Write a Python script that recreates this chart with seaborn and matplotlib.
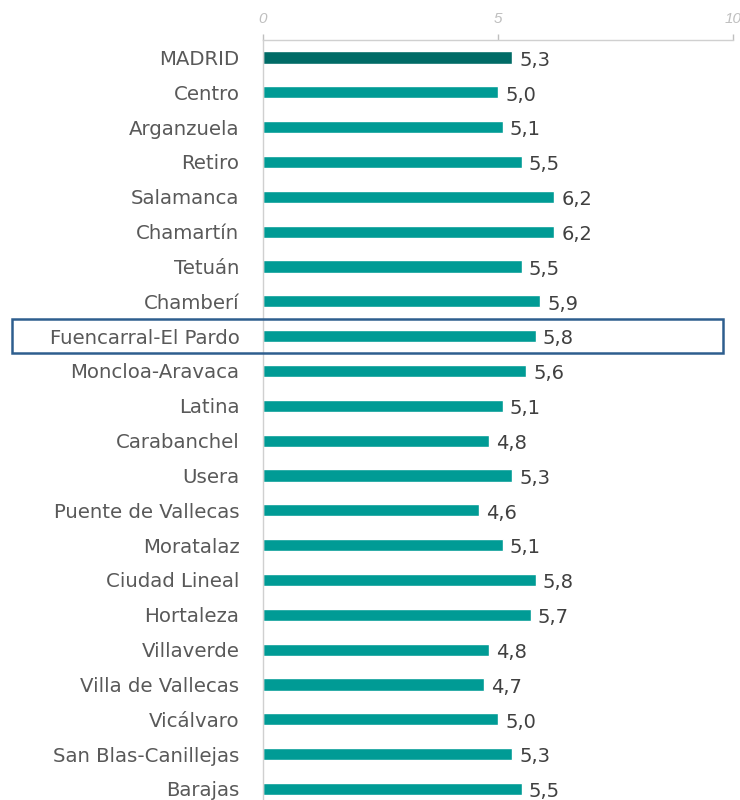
import matplotlib
matplotlib.use("Agg")
import matplotlib.pyplot as plt
import seaborn as sns
import pandas as pd
from matplotlib.patches import Rectangle

districts = ["MADRID", "Centro", "Arganzuela", "Retiro", "Salamanca", "Chamartín",
             "Tetuán", "Chamberí", "Fuencarral-El Pardo", "Moncloa-Aravaca", "Latina",
             "Carabanchel", "Usera", "Puente de Vallecas", "Moratalaz", "Ciudad Lineal",
             "Hortaleza", "Villaverde", "Villa de Vallecas", "Vicálvaro",
             "San Blas-Canillejas", "Barajas"]
values = [5.3, 5.0, 5.1, 5.5, 6.2, 6.2, 5.5, 5.9, 5.8, 5.6, 5.1, 4.8, 5.3, 4.6,
          5.1, 5.8, 5.7, 4.8, 4.7, 5.0, 5.3, 5.5]
groups = ["city"] + ["district"] * (len(districts) - 1)
xticks = [0, 5, 10]
highlight = "Fuencarral-El Pardo"

sns.set_style("white")
plt.rcParams['font.family'] = ['DejaVu Sans']

df = pd.DataFrame({"district": districts, "value": values, "group": groups})

fig = plt.figure(figsize=(7.4, 8), dpi=100)
ax = fig.add_axes([263/740, 0.0, 470/740, 1 - 40/800])

sns.barplot(data=df, x="value", y="district", hue="group", orient="h",
            palette={"city": "#006B66", "district": "#009B95"}, saturation=1,
            width=0.35, dodge=False, legend=False, ax=ax)

ax.set_xlim(0, 10)
ax.set_ylim(len(districts) - 1 + 0.316, -0.5)
ax.xaxis.tick_top()
ax.set_xticks(xticks)
ax.set_xticklabels([str(t) for t in xticks], fontstyle="italic", color="#BFBFBF",
                   fontsize=11, family=["Liberation Sans", "DejaVu Sans"])
ax.tick_params(axis="x", direction="out", length=4, color="#BFBFBF", width=1, pad=6)
ax.tick_params(axis="y", length=0, pad=17, labelsize=14.2, labelcolor="#595959")
ax.set_xlabel("")
ax.set_ylabel("")
for side in ["right", "bottom"]:
    ax.spines[side].set_visible(False)
for side in ["top", "left"]:
    ax.spines[side].set_color("#D0D0D0")
    ax.spines[side].set_linewidth(1)

for i, v in enumerate(values):
    ax.text(v + 0.15, i + 0.08, f"{v:.1f}".replace(".", ","), va="center", ha="left",
            fontsize=14, color="#404040")

idx = districts.index(highlight)
y_center_px = 57 + 34.86 * idx
rect = Rectangle((12/740, 1 - (y_center_px + 17)/800), (723 - 12)/740, 34/800,
                 transform=fig.transFigure, fill=False, edgecolor="#2E5E8E",
                 linewidth=1.8, clip_on=False)
fig.patches.append(rect)

fig.savefig("out.png", dpi=100)
